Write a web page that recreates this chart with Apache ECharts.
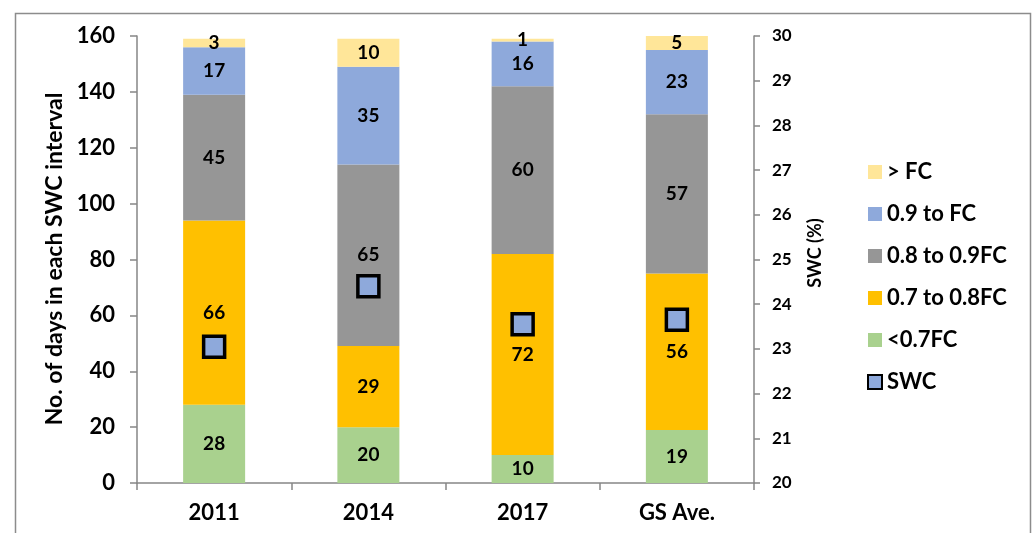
<!DOCTYPE html>
<html>
<head>
<meta charset="utf-8">
<script src="https://cdn.jsdelivr.net/npm/echarts@6/dist/echarts.min.js"></script>
<style>
    html, body { margin: 0; padding: 0; background: #fff; }
    #chart { width: 1034px; height: 533px; }
</style>
</head>
<body>
<div id="chart"></div>
<script>
// categories
const categories = ['2011', '2014', '2017', 'GS Ave.'];
// days per SWC interval (stack order: bottom -> top)
const below07 = [28, 20, 10, 19];
const from07to08 = [66, 29, 72, 56];
const from08to09 = [45, 65, 60, 57];
const from09toFC = [17, 35, 16, 23];
const aboveFC = [3, 10, 1, 5];
// mean SWC (%), right axis
const swc = [23.05, 24.4, 23.55, 23.65];

const fontFam = 'Lato, "Open Sans", sans-serif';
const axisGrey = '#868686';

let chart = echarts.init(document.getElementById('chart'));

// bar series defaults
function barSeries(name, data, color) {
    return {
        name: name,
        type: 'bar',
        stack: 'days',
        barWidth: 62,
        data: data,
        itemStyle: { color: color },
        label: {
            show: true,
            position: 'inside',
            color: '#000',
            fontFamily: fontFam,
            fontWeight: 'bold',
            fontSize: 19
        },
        z: 2
    };
}

// axis titles are drawn as graphic text so they can sit where the original puts them
const titleStyle = { fill: '#000', fontFamily: fontFam, fontWeight: 'bold', align: 'center', verticalAlign: 'middle' };

const option = {
    animation: false,
    grid: { left: 137, right: 280, top: 36, bottom: 50 },
    graphic: [{
        type: 'rect',
        shape: { x: 15.5, y: 13.5, width: 1015, height: 560 },
        style: { fill: 'none', stroke: '#8c8c8c', lineWidth: 1.5 },
        silent: true
    }, {
        type: 'text',
        x: 55, y: 259,
        rotation: Math.PI / 2,
        style: Object.assign({ text: 'No. of days in each SWC interval', fontSize: 23 }, titleStyle),
        silent: true
    }, {
        type: 'text',
        x: 815, y: 253,
        rotation: Math.PI / 2,
        style: Object.assign({ text: 'SWC (%)', fontSize: 18 }, titleStyle),
        silent: true
    }],
    legend: {
        orient: 'vertical',
        left: 862,
        top: 155,
        itemWidth: 14,
        itemHeight: 14,
        itemGap: 18,
        icon: 'rect',
        data: ['> FC', '0.9 to FC', '0.8 to 0.9FC', '0.7 to 0.8FC', '<0.7FC', 'SWC'],
        textStyle: {
            color: '#000',
            fontFamily: fontFam,
            fontWeight: 'bold',
            fontSize: 22,
            lineHeight: 24
        }
    },
    xAxis: {
        type: 'category',
        data: categories,
        axisLine: { lineStyle: { color: axisGrey, width: 1.5 } },
        axisTick: { show: true, length: 7, lineStyle: { color: axisGrey, width: 1.5 } },
        axisLabel: {
            color: '#000',
            fontFamily: fontFam,
            fontWeight: 'bold',
            fontSize: 22,
            margin: 19
        }
    },
    yAxis: [{
        type: 'value',
        min: 0,
        max: 160,
        interval: 20,
        axisLine: { show: true, lineStyle: { color: axisGrey, width: 1.5 } },
        axisTick: { show: true, length: 7, lineStyle: { color: axisGrey, width: 1.5 } },
        splitLine: { show: false },
        axisLabel: {
            color: '#000',
            fontFamily: fontFam,
            fontWeight: 'bold',
            fontSize: 22,
            margin: 22
        }
    }, {
        type: 'value',
        position: 'right',
        min: 20,
        max: 30,
        interval: 1,
        axisLine: { show: true, lineStyle: { color: axisGrey, width: 1.5 } },
        axisTick: { show: true, length: 6, lineStyle: { color: axisGrey, width: 1.5 } },
        splitLine: { show: false },
        axisLabel: {
            color: '#000',
            fontFamily: fontFam,
            fontWeight: 'bold',
            fontSize: 17,
            margin: 18
        }
    }],
    series: [
        barSeries('<0.7FC', below07, '#A9D18E'),
        barSeries('0.7 to 0.8FC', from07to08, '#FFC000'),
        barSeries('0.8 to 0.9FC', from08to09, '#969696'),
        barSeries('0.9 to FC', from09toFC, '#8EA9DB'),
        barSeries('> FC', aboveFC, '#FFE699'),
        {
            name: 'SWC',
            type: 'scatter',
            yAxisIndex: 1,
            symbol: 'rect',
            symbolSize: 21,
            data: swc,
            itemStyle: { color: '#8EA9DB', borderColor: '#000', borderWidth: 3.5, opacity: 1 },
            z: 5
        }
    ]
};

chart.setOption(option);
</script>
</body>
</html>
